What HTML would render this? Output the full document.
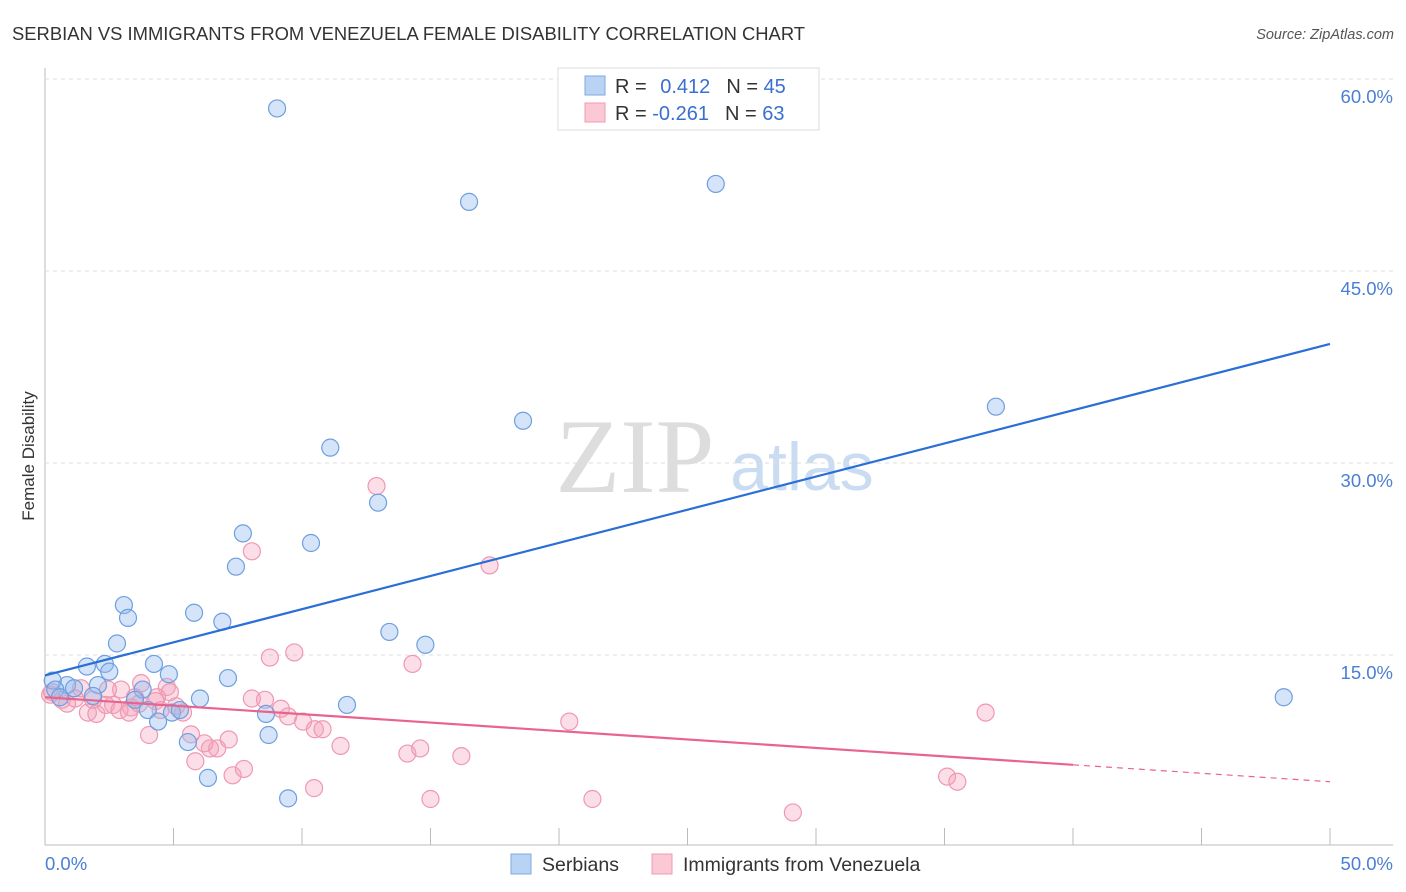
<!DOCTYPE html>
<html><head><meta charset="utf-8"><style>
body{margin:0;background:#fff;font-family:"Liberation Sans",sans-serif}
svg{display:block}
</style></head><body>
<svg id="chart" width="1406" height="892">
<text x="12" y="40" font-size="18.4" fill="#333" textLength="793">SERBIAN VS IMMIGRANTS FROM VENEZUELA FEMALE DISABILITY CORRELATION CHART</text>
<text x="1394" y="39" font-size="14.5" fill="#555" font-style="italic" text-anchor="end">Source: ZipAtlas.com</text>
<text transform="translate(34,456) rotate(-90)" font-size="17" fill="#333" text-anchor="middle">Female Disability</text>
<g>
<text x="635" y="492" font-size="106" font-family="Liberation Serif,serif" fill="#ddd" text-anchor="middle">ZIP</text>
<text x="802" y="490" font-size="68" fill="#c9dcf2" text-anchor="middle">atlas</text>
</g>
<g id="grid"></g><g id="pts"></g><g id="lines"></g>
<g>
<rect x="558" y="68" width="261" height="62" fill="#fff" stroke="#ddd"/>
<rect x="585" y="76" width="20" height="19" fill="#b9d3f4" stroke="#7ea8e2"/>
<rect x="585" y="103" width="20" height="19" fill="#fbc9d6" stroke="#f09ab2"/>
<text x="615" y="93" font-size="20" fill="#333">R = <tspan fill="#3a6fd0" dx="8">0.412</tspan><tspan dx="16">N = </tspan><tspan fill="#3a6fd0">45</tspan></text>
<text x="615" y="120" font-size="20" fill="#333">R = <tspan fill="#3a6fd0">-0.261</tspan><tspan dx="16">N = </tspan><tspan fill="#3a6fd0">63</tspan></text>
</g>
<g>
<rect x="511" y="854" width="20" height="20" fill="#b9d3f4" stroke="#7ea8e2"/>
<text x="542" y="871" font-size="19.5" fill="#333">Serbians</text>
<rect x="652" y="854" width="20" height="20" fill="#fbc9d6" stroke="#f09ab2"/>
<text x="683" y="871" font-size="19.5" fill="#333">Immigrants from Venezuela</text>
</g>
</svg>
<script>
const xTicks=[0,5,10,15,20,25,30,35,40,45,50];
const yTicks=[15,30,45,60];
const yTickLabels=["15.0%","30.0%","45.0%","60.0%"];
const xEndLabels=["0.0%","50.0%"];
const serbX=[9.03,16.5,26.1,37.0,18.6,11.1,12.96,7.7,10.35,7.43,3.07,3.23,5.8,6.9,13.4,14.8,2.8,1.63,2.33,2.5,4.24,4.82,7.12,48.2,6.03,11.75,3.8,2.06,0.86,0.3,0.4,4.0,4.94,5.25,8.6,4.4,8.7,5.56,6.34,9.46,1.87,3.5,0.58,1.13];
const serbY=[57.7,50.4,51.8,34.4,33.3,31.2,26.9,24.5,23.75,21.9,18.9,17.9,18.3,17.6,16.8,15.8,15.9,14.1,14.3,13.7,14.3,13.5,13.2,11.7,11.6,11.1,12.3,12.65,12.65,13.0,12.3,10.7,10.5,10.7,10.4,9.8,8.75,8.2,5.4,3.8,11.8,11.5,11.7,12.4];
const venX=[12.9,8.05,17.3,9.7,8.75,14.3,36.6,20.4,2.96,3.74,4.74,4.36,2.45,1.4,8.05,8.56,9.18,9.46,10.04,10.5,10.8,11.5,5.68,4.05,6.42,6.7,7.15,6.2,5.85,7.3,7.74,10.47,14.1,14.6,16.2,15.0,21.3,29.1,35.1,35.5,0.27,0.66,0.86,1.67,2.0,2.37,2.65,3.35,3.66,4.3,4.5,5.37,5.1,2.9,3.27,0.2,1.17,1.87,4.86,3.5];
const venY=[28.2,23.1,22.0,15.2,14.8,14.3,10.5,9.8,12.3,12.8,12.5,11.7,12.3,12.4,11.6,11.5,10.8,10.2,9.8,9.2,9.2,7.9,8.8,8.75,7.7,7.7,8.4,8.1,6.7,5.6,6.1,4.6,7.3,7.7,7.1,3.75,3.75,2.7,5.5,5.1,12.1,11.5,11.2,10.5,10.4,11.1,11.1,10.9,11.2,11.4,10.7,10.5,11.0,10.7,10.5,11.9,11.6,11.5,12.1,11.7];
const serbTrend=[13.4,39.3];
const venTrend=[11.7,5.1];
const venSolidEnd=40;
const X=v=>45+v*25.7, Y=v=>847-v*12.8;
const NS="http://www.w3.org/2000/svg";
function mk(t,a,p){const e=document.createElementNS(NS,t);for(const k in a)e.setAttribute(k,a[k]);p.appendChild(e);return e;}
const g=document.getElementById('grid');
const ax=mk('line',{x1:45,y1:68,x2:45,y2:845,stroke:'#bbb'},g);


const bx=mk('line',{x1:45,y1:845,x2:1393,y2:845,stroke:'#bbb'},g);


yTicks.forEach((v,i)=>{
 const l=mk('line',{x1:45,y1:Y(v),x2:1393,y2:Y(v),stroke:'#ddd','stroke-dasharray':'4,4'},g);
 
 
 const t=mk('text',{x:1393,y:Y(v)+24,'font-size':18.5,fill:'#4a7fd4','text-anchor':'end'},g);
 t.textContent=yTickLabels[i];
 
 
});
xTicks.forEach(v=>{
 const l=mk('line',{x1:X(v),y1:828,x2:X(v),y2:845,stroke:'#bbb'},g);
 
 
});
const t0=mk('text',{x:45,y:870,'font-size':18.5,fill:'#4a7fd4'},g);t0.textContent=xEndLabels[0];


const t1=mk('text',{x:1393,y:870,'font-size':18.5,fill:'#4a7fd4','text-anchor':'end'},g);t1.textContent=xEndLabels[1];


const P=document.getElementById('pts');
venX.forEach((x,i)=>{
 const c=mk('circle',{cx:X(x),cy:Y(venY[i]),r:8.5,fill:'rgba(244,160,185,0.35)',stroke:'#ef98b1','stroke-width':1.2},P);
 
 
});
serbX.forEach((x,i)=>{
 const c=mk('circle',{cx:X(x),cy:Y(serbY[i]),r:8.5,fill:'rgba(150,188,238,0.4)',stroke:'#6e9fe0','stroke-width':1.2},P);
 
 
});
const L=document.getElementById('lines');
const b=mk('line',{x1:X(0),y1:Y(serbTrend[0]),x2:X(50),y2:Y(serbTrend[1]),stroke:'#2a6fd6','stroke-width':2.2},L);


const vm=venTrend[0]+(venTrend[1]-venTrend[0])*venSolidEnd/50;
const p1=mk('line',{x1:X(0),y1:Y(venTrend[0]),x2:X(venSolidEnd),y2:Y(vm),stroke:'#e8648f','stroke-width':2.2},L);


const p2=mk('line',{x1:X(venSolidEnd),y1:Y(vm),x2:X(50),y2:Y(venTrend[1]),stroke:'#e8648f','stroke-width':1.2,'stroke-dasharray':'6,5'},L);


</script>
</body></html>
